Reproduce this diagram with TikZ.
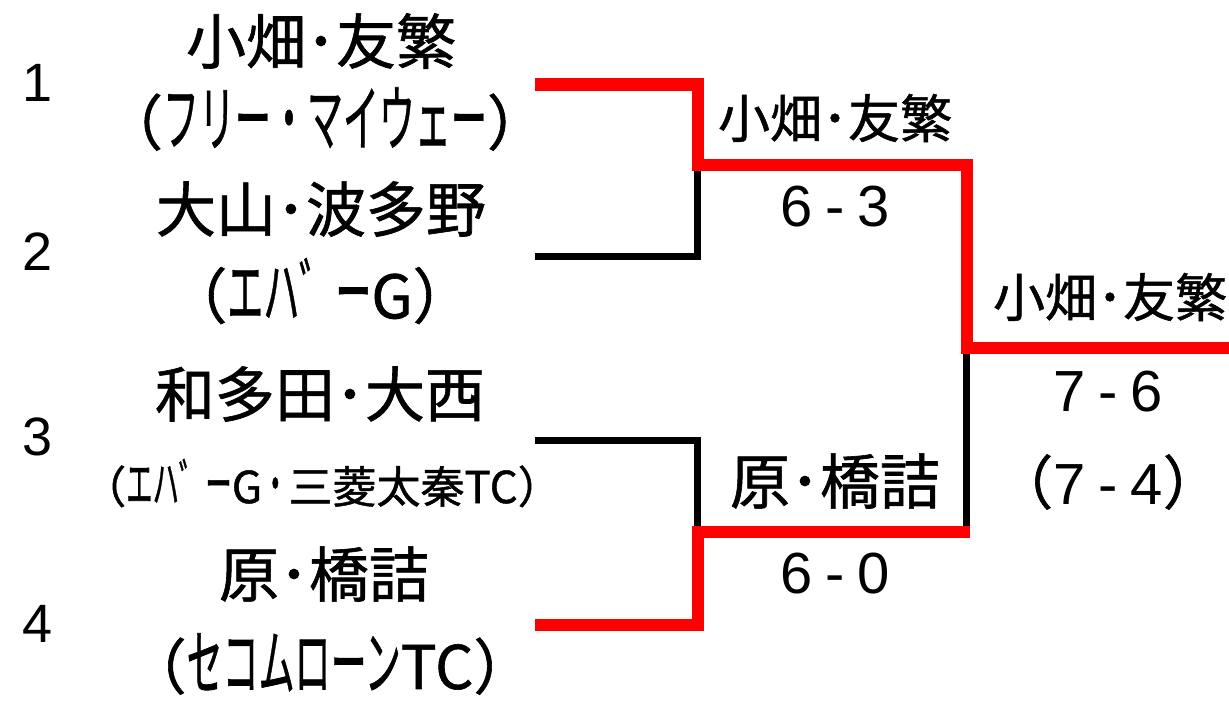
\documentclass[tikz,border=0pt]{standalone}
\usepackage{fontspec}
\usepackage{graphicx}
\setmainfont{Liberation Sans}
\newfontfamily\jp{Noto Sans CJK JP}[FakeBold=1]
\newcommand{\gap}{\hspace{13pt}}
\newcommand{\hw}[1]{\scalebox{0.6}[1.2]{#1}}
\begin{document}
\begin{tikzpicture}[x=1pt,y=-1pt,
  seed/.style={font=\fontsize{54}{60}\selectfont, inner sep=0pt},
  pname/.style={font=\jp\fontsize{60}{66}\selectfont, inner sep=0pt},
  club/.style={font=\jp\fontsize{60}{66}\selectfont, inner sep=0pt},
  winner/.style={font=\jp\fontsize{52}{58}\selectfont, inner sep=0pt},
  score/.style={font=\fontsize{58}{64}\selectfont, inner sep=0pt},
  redline/.style={draw=red, line width=12pt, line join=miter},
  blackline/.style={draw=black, line width=7pt, line join=miter}]
\useasboundingbox (0,0) rectangle (1229,701);

% seeds
\node[seed] (n1) at (38,83) {1};
\node[seed] (n2) at (38,252) {2};
\node[seed] (n3) at (38,437) {3};
\node[seed] (n4) at (38,624) {4};

% players
\node[pname] (p1) at (321,41) {小畑･友繁};
\node[club] (c1) at (325,119) {（\hw{フリー・マイウェー}）};
\node[pname] (p2) at (321,209) {大山･波多野};
\node[club] (c2) at (320,291) {（\hw{エハ゛ー}G）};
\node[pname] (p3) at (320,394) {和多田･大西};
\node[club, font=\jp\fontsize{44}{50}\selectfont] (c3) at (322,483) {（\hw{エハ゛ー}G\hw{・}三菱太秦TC）};
\node[pname] (p4) at (324,574) {原･橋詰};
\node[club] (c4) at (330,664) {（\hw{セコムローン}TC）};

% bracket coordinates
\coordinate (e1) at (535,84.5);
\coordinate (e2) at (535,256);
\coordinate (e3) at (535,440.7);
\coordinate (e4) at (535,624.5);
\coordinate (j1) at (697.5,164.5);
\coordinate (j2) at (697.5,532);
\coordinate (k1) at (966.7,348);
\coordinate (k2) at (966.7,532);
\coordinate (k2e) at (970.2,532);
\coordinate (fin) at (1229,348);

% losing lines
\draw[blackline] (e2) -| (j1);
\draw[blackline] (e3) -| (j2);
\draw[blackline] (k1) -- (k2);
% winning lines
\draw[redline] (e1) -| (j1) -| (k1) -- (fin);
\draw[redline] (e4) -| (j2) -- (k2e);

% results
\node[winner] (w1) at (835,118) {小畑･友繁};
\node[score] (s1) at (835,207) {6\gap-\gap3};
\node[pname] (w2) at (835,481) {原･橋詰};
\node[score] (s2) at (835,574) {6\gap-\gap0};
\node[winner] (w3) at (1110,297) {小畑･友繁};
\node[score] (s3) at (1108,392) {7\gap-\gap6};
\node[score] (s4) at (1108,482) {{\jp （}7\gap-\gap4{\jp ）}};
\end{tikzpicture}
\end{document}
